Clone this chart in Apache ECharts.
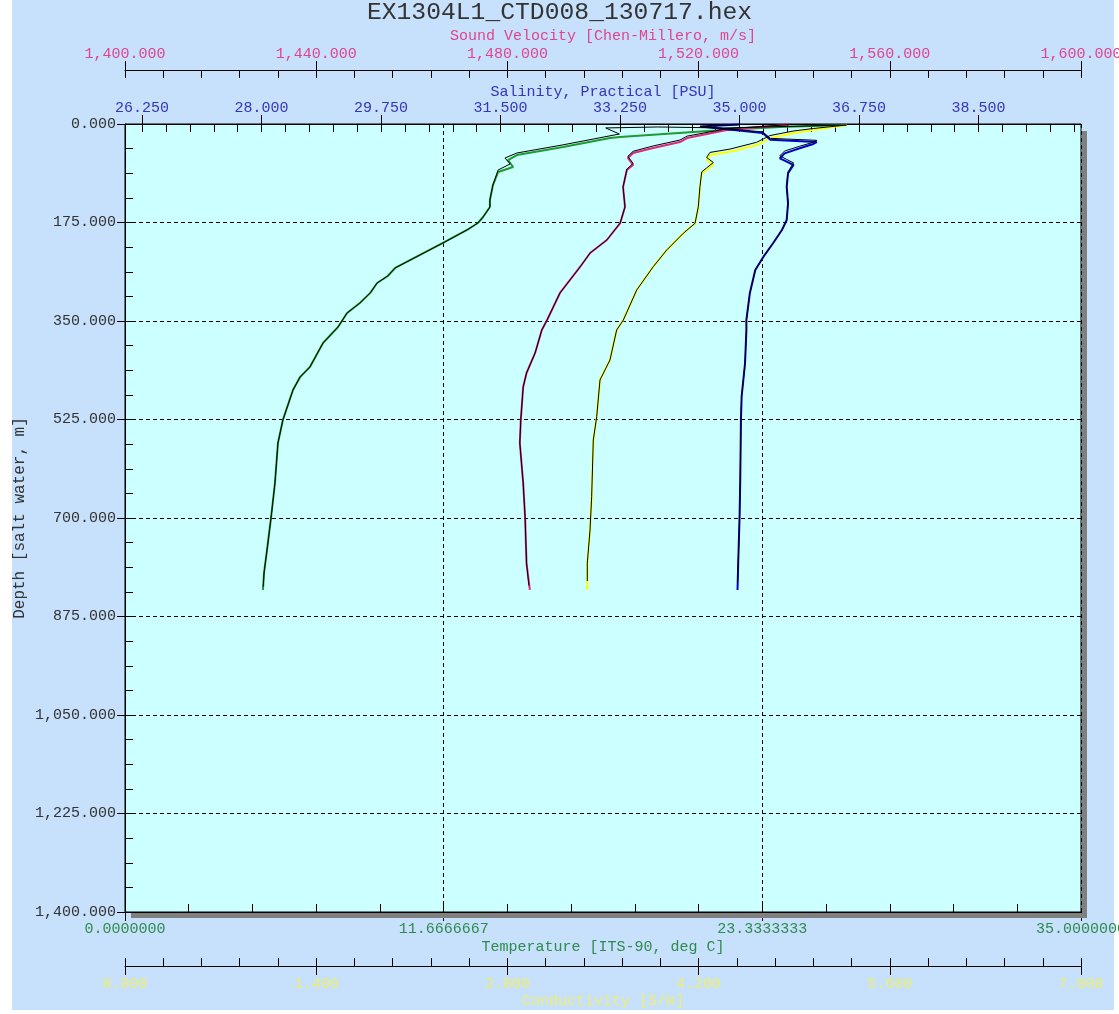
<!DOCTYPE html>
<html><head><meta charset="utf-8">
<script src="https://cdn.jsdelivr.net/npm/echarts@6/dist/echarts.min.js"></script>
<style>html,body{margin:0;padding:0;background:#fff}#c{width:1119px;height:1014px}</style>
</head><body><div id="c"></div>
<script>
// ---------- tick labels ----------
const depthTicks = [0, 175, 350, 525, 700, 875, 1050, 1225, 1400];
const tempTicks = [0, 11.6666667, 23.3333333, 35];
const condTicks = [0, 1.4, 2.8, 4.2, 5.6, 7];
const svTicks = [1400, 1440, 1480, 1520, 1560, 1600];
const salTicks = [26.25, 28, 29.75, 31.5, 33.25, 35, 36.75, 38.5];

// ---------- data (depth in m) ----------
// Temperature [ITS-90, deg C] primary (green)
const tempDepth = [1.8, 5.3, 10.7, 23.1, 24.9, 40.9, 55.1, 64.0, 76.4, 85.3, 108.4, 135.0, 147.4, 165.2, 175.9, 188.3, 211.4, 232.7, 255.8, 270.0, 282.5, 300.0, 318.0, 335.8, 360.6, 389.1, 431.7, 449.5, 472.6, 500.0, 525.8, 566.7, 637.8, 698.2, 756.8, 797.7, 827.9];
const tempValues = [26.40, 23.98, 21.89, 18.12, 17.76, 16.04, 14.35, 14.02, 14.21, 13.66, 13.47, 13.36, 13.36, 13.11, 12.92, 12.52, 11.64, 10.80, 9.89, 9.62, 9.23, 8.98, 8.60, 8.13, 7.80, 7.25, 6.77, 6.41, 6.15, 5.96, 5.78, 5.60, 5.49, 5.35, 5.20, 5.09, 5.05];
// Temperature secondary (black)
const temp2Depth = [1.8, 7.0, 5.3, 7.0, 17.8, 37.0, 51.5, 60.4, 71.0, 81.7, 108.4, 135.0, 147.4, 165.2, 175.9, 188.3, 211.4, 232.7, 255.8, 270.0, 282.5, 300.0, 318.0, 335.8, 360.6, 389.1, 431.7, 449.5, 472.6, 500.0, 525.8, 566.7, 637.8, 698.2, 756.8, 797.7, 822.0];
const temp2Values = [26.40, 21.90, 19.50, 17.60, 18.10, 16.04, 14.35, 13.91, 14.10, 13.66, 13.47, 13.36, 13.36, 13.11, 12.92, 12.52, 11.64, 10.80, 9.89, 9.62, 9.23, 8.98, 8.60, 8.13, 7.80, 7.25, 6.77, 6.41, 6.15, 5.96, 5.78, 5.60, 5.49, 5.35, 5.20, 5.09, 5.06];

// Sound Velocity [Chen-Millero, m/s] (pink)
const svDepth = [1.0, 3.6, 10.7, 24.9, 32.0, 42.6, 51.5, 60.4, 72.8, 81.7, 111.9, 147.4, 175.9, 206.1, 229.2, 254.0, 300.2, 348.2, 366.0, 406.8, 442.4, 467.2, 525.8, 566.7, 637.8, 698.2, 780.0, 827.9];
const svValues = [1539.0, 1535.6, 1525.9, 1517.6, 1516.1, 1510.5, 1506.3, 1505.2, 1506.3, 1505.0, 1504.2, 1504.6, 1503.6, 1500.8, 1497.3, 1495.2, 1491.0, 1488.3, 1487.2, 1485.8, 1484.0, 1483.3, 1482.8, 1482.6, 1483.3, 1483.7, 1484.0, 1484.7];
const sv2Depth = [1.0, 3.0, 8.5, 21.5, 28.5, 39.0, 48.5, 57.5, 70.0, 80.0, 111.9, 147.4, 175.9, 206.1, 229.2, 254.0, 300.2, 348.2, 366.0, 406.8, 442.4, 467.2, 525.8, 566.7, 637.8, 698.2, 780.0, 820.0];
const sv2Values = [1539.0, 1535.6, 1525.9, 1517.6, 1516.1, 1510.5, 1506.3, 1505.2, 1506.3, 1505.0, 1504.2, 1504.6, 1503.6, 1500.8, 1497.3, 1495.2, 1491.0, 1488.3, 1487.2, 1485.8, 1484.0, 1483.3, 1482.8, 1482.6, 1483.3, 1483.7, 1484.0, 1484.5];

// Conductivity [S/m] (yellow)
const condDepth = [1.8, 10.7, 16.5, 25.4, 31.4, 37.3, 49.2, 55.1, 64.0, 72.8, 81.7, 87.6, 111.4, 146.9, 176.4, 194.2, 223.8, 253.5, 294.9, 348.2, 366.0, 419.3, 454.8, 520.0, 561.4, 662.1, 721.3, 780.4, 827.9];
const condValues = [5.285, 5.040, 4.893, 4.723, 4.674, 4.625, 4.430, 4.283, 4.259, 4.308, 4.259, 4.223, 4.210, 4.198, 4.174, 4.088, 3.967, 3.868, 3.747, 3.649, 3.600, 3.551, 3.478, 3.454, 3.429, 3.417, 3.405, 3.385, 3.385];
const cond2Depth = [1.8, 8.0, 12.5, 20.5, 26.5, 32.5, 44.5, 50.5, 59.5, 68.5, 78.0, 85.0, 111.4, 146.9, 176.4, 194.2, 223.8, 253.5, 294.9, 348.2, 366.0, 419.3, 454.8, 520.0, 561.4, 662.1, 721.3, 780.4, 812.0];
const cond2Values = [5.285, 5.040, 4.893, 4.723, 4.674, 4.625, 4.430, 4.283, 4.259, 4.308, 4.259, 4.223, 4.210, 4.198, 4.174, 4.088, 3.967, 3.868, 3.747, 3.649, 3.600, 3.551, 3.478, 3.454, 3.429, 3.417, 3.405, 3.385, 3.385];

// Salinity, Practical [PSU] (blue)
const salDepth = [1.0, 4.5, 16.0, 27.9, 32.0, 35.5, 43.2, 52.1, 60.9, 67.0, 72.8, 87.6, 111.4, 140.9, 170.5, 188.3, 211.9, 235.7, 259.4, 300.8, 348.2, 366.0, 425.2, 484.5, 525.8, 632.4, 697.6, 780.4, 827.9];
const salValues = [35.00, 34.42, 35.34, 35.45, 36.13, 36.08, 35.88, 35.66, 35.59, 35.69, 35.79, 35.71, 35.69, 35.71, 35.69, 35.62, 35.49, 35.35, 35.23, 35.15, 35.10, 35.10, 35.08, 35.03, 35.02, 35.01, 35.00, 34.98, 34.97];
const sal2Depth = [1.0, 4.5, 14.0, 25.5, 29.0, 32.5, 39.5, 48.0, 56.5, 63.0, 69.0, 85.0, 111.4, 140.9, 170.5, 188.3, 211.9, 235.7, 259.4, 300.8, 348.2, 366.0, 425.2, 484.5, 525.8, 632.4, 697.6, 780.4, 815.0];
const sal2Values = [35.00, 34.42, 35.34, 35.45, 36.13, 36.08, 35.88, 35.66, 35.59, 35.69, 35.79, 35.71, 35.69, 35.71, 35.69, 35.62, 35.49, 35.35, 35.23, 35.15, 35.10, 35.10, 35.08, 35.03, 35.02, 35.01, 35.00, 34.98, 34.97];

// ---------- helpers ----------
const FONT = '"Liberation Mono", "DejaVu Sans Mono", monospace';
const FS = 15;
function fmt3(v) { return Number(v).toLocaleString('en-US', {minimumFractionDigits: 3, maximumFractionDigits: 3}); }
function minorOf(major, n, lo, hi) {
  const step = major[1] - major[0];
  const out = [];
  const first = major[0];
  for (let k = -n; k <= (major.length) * n; k++) {
    const v = first + k * step / n;
    if (v >= lo - 1e-9 && v <= hi + 1e-9) out.push(v);
  }
  return out;
}
function zip(vals, depths) { return depths.map((d, i) => [vals[i], d]); }

const black = '#000';
function mainX(opt) {
  return Object.assign({
    type: 'value', gridIndex: 0,
    axisLine: {show: true, onZero: false, lineStyle: {color: black, width: 1}},
    axisTick: {show: true, inside: false, length: 9, customValues: opt.ticks, lineStyle: {color: black, width: 1}},
    axisLabel: {show: true, customValues: opt.ticks, formatter: opt.fmt, color: opt.color, fontFamily: FONT, fontSize: FS, margin: opt.margin || 8, showMinLabel: true, showMaxLabel: true},
    splitLine: {show: false},
    nameLocation: 'middle',
    nameMoveOverlap: false,
    nameTextStyle: {color: opt.color, fontFamily: FONT, fontSize: FS}
  }, opt.extra);
}
function minorX(opt) {
  return Object.assign({
    type: 'value', gridIndex: 0,
    axisLine: {show: false, onZero: false},
    axisTick: {show: true, inside: true, length: 8, customValues: opt.ticks, lineStyle: {color: black, width: 1}},
    axisLabel: {show: false},
    splitLine: {show: false}
  }, opt.extra);
}

const option = {
  animation: false,
  backgroundColor: 'transparent',
  title: {
    text: 'EX1304L1_CTD008_130717.hex', left: 'center', top: -5,
    textStyle: {fontFamily: FONT, fontSize: 24.7, fontWeight: 'normal', color: '#333'}
  },
  graphic: [
    {type: 'rect', z: -100, silent: true, shape: {x: 12, y: 0, width: 1102, height: 1010}, style: {fill: '#c7e0fb'}},
    {type: 'rect', z: 1, silent: true, shape: {x: 1082, y: 131, width: 5, height: 787}, style: {fill: '#808080'}},
    {type: 'rect', z: 1, silent: true, shape: {x: 131, y: 913, width: 956, height: 5}, style: {fill: '#808080'}}
  ],
  grid: {left: 125, top: 124, width: 956, height: 788, show: true, backgroundColor: '#ccffff', borderColor: '#000', borderWidth: 1, containLabel: false, outerBoundsMode: 'none'},
  xAxis: [
    // 0 Temperature
    mainX({ticks: tempTicks, fmt: v => Number(v).toFixed(7), color: '#2e8b4e', margin: 10, extra: {
      position: 'bottom', min: 0, max: 35, name: 'Temperature [ITS-90, deg C]', nameGap: 28,
      splitLine: {show: true, lineStyle: {color: '#000', width: 1, type: [4, 3]}}}}),
    minorX({ticks: minorOf(tempTicks, 5, 0, 35), extra: {position: 'bottom', min: 0, max: 35}}),
    // 2 Conductivity
    mainX({ticks: condTicks, fmt: v => Number(v).toFixed(3), color: '#eeee6e', margin: 11, extra: {
      position: 'bottom', offset: 54, min: 0, max: 7, name: 'Conductivity [S/m]', nameGap: 28}}),
    minorX({ticks: minorOf(condTicks, 5, 0, 7), extra: {position: 'bottom', offset: 54, min: 0, max: 7}}),
    // 4 Sound velocity
    mainX({ticks: svTicks, fmt: v => fmt3(v), color: '#e0448f', margin: 8, extra: {
      position: 'top', offset: 54, min: 1400, max: 1600, name: 'Sound Velocity [Chen-Millero, m/s]', nameGap: 26}}),
    minorX({ticks: minorOf(svTicks, 5, 1400, 1600), extra: {position: 'top', offset: 54, min: 1400, max: 1600}}),
    // 6 Salinity
    mainX({ticks: salTicks, fmt: v => Number(v).toFixed(3), color: '#3535b8', margin: 8, extra: {
      position: 'top', min: 26, max: 40, name: 'Salinity, Practical [PSU]', nameGap: 24}}),
    minorX({ticks: minorOf(salTicks, 5, 26, 40), extra: {position: 'top', min: 26, max: 40}})
  ],
  yAxis: [
    {
      type: 'value', gridIndex: 0, position: 'left', inverse: true, min: 0, max: 1400,
      axisLine: {show: true, onZero: false, lineStyle: {color: black, width: 1}},
      axisTick: {show: true, inside: false, length: 8, customValues: depthTicks, lineStyle: {color: black}},
      axisLabel: {show: true, customValues: depthTicks, formatter: v => fmt3(v), color: '#333', fontFamily: FONT, fontSize: FS, margin: 9},
      splitLine: {show: true, lineStyle: {color: '#000', width: 1, type: [4, 3]}},
      name: 'Depth [salt water, m]', nameLocation: 'middle', nameGap: 97, nameRotate: 90, nameMoveOverlap: false,
      nameTextStyle: {color: '#333', fontFamily: FONT, fontSize: 16}
    },
    {
      type: 'value', gridIndex: 0, position: 'left', inverse: true, min: 0, max: 1400,
      axisLine: {show: false, onZero: false},
      axisTick: {show: true, inside: true, length: 8, customValues: minorOf(depthTicks, 4, 0, 1400), lineStyle: {color: black}},
      axisLabel: {show: false}, splitLine: {show: false}
    }
  ],
  series: [
    {type: 'line', name: 'Temperature', xAxisIndex: 0, yAxisIndex: 0, data: zip(tempValues, tempDepth), showSymbol: false, symbol: 'none', lineStyle: {color: '#1e9a2e', width: 2}, z: 3},
    {type: 'line', name: 'Sound Velocity', xAxisIndex: 4, yAxisIndex: 0, data: zip(svValues, svDepth), showSymbol: false, symbol: 'none', lineStyle: {color: '#e0287f', width: 2}, z: 3},
    {type: 'line', name: 'Conductivity', xAxisIndex: 2, yAxisIndex: 0, data: zip(condValues, condDepth), showSymbol: false, symbol: 'none', lineStyle: {color: '#ffff00', width: 2}, z: 3},
    {type: 'line', name: 'Salinity', xAxisIndex: 6, yAxisIndex: 0, data: zip(salValues, salDepth), showSymbol: false, symbol: 'none', lineStyle: {color: '#0000cc', width: 2}, z: 3},
    {type: 'line', name: 'Temperature 2', xAxisIndex: 0, yAxisIndex: 0, data: zip(temp2Values, temp2Depth), showSymbol: false, symbol: 'none', lineStyle: {color: '#000', width: 1}, z: 4},
    {type: 'line', name: 'Sound Velocity 2', xAxisIndex: 4, yAxisIndex: 0, data: zip(sv2Values, sv2Depth), showSymbol: false, symbol: 'none', lineStyle: {color: '#000', width: 1}, z: 4},
    {type: 'line', name: 'Conductivity 2', xAxisIndex: 2, yAxisIndex: 0, data: zip(cond2Values, cond2Depth), showSymbol: false, symbol: 'none', lineStyle: {color: '#000', width: 1}, z: 4},
    {type: 'line', name: 'Salinity 2', xAxisIndex: 6, yAxisIndex: 0, data: zip(sal2Values, sal2Depth), showSymbol: false, symbol: 'none', lineStyle: {color: '#000', width: 1}, z: 4}
  ]
};
const chart = echarts.init(document.getElementById('c'), null, {renderer: 'canvas'});
chart.setOption(option);
</script></body></html>
